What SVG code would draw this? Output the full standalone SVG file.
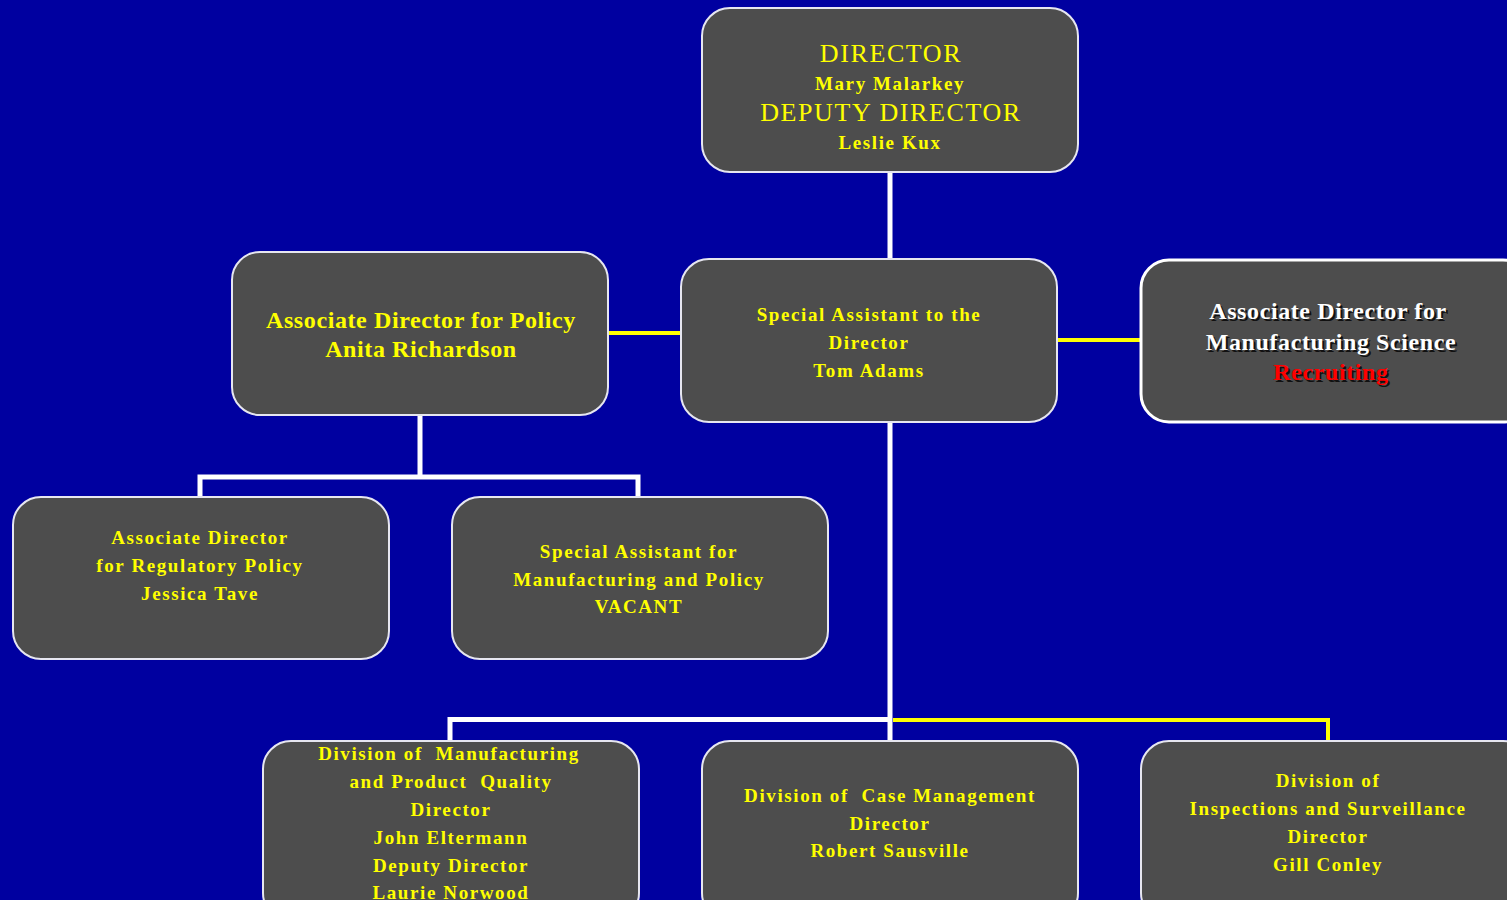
<svg xmlns="http://www.w3.org/2000/svg" width="1507" height="900" viewBox="0 0 1507 900">
<style>
.box{fill:#4d4d4d;stroke:#e6e6f0;stroke-width:2}
.boxw{fill:#4d4d4d;stroke:#ffffff;stroke-width:3}
.t{font-family:"Liberation Serif","Times New Roman",serif;font-weight:bold;fill:#ffff00;text-anchor:middle}
.s19{font-size:19px;letter-spacing:1.6px}
.s24{font-size:24px;letter-spacing:0.6px}
.s26{font-size:26px;font-weight:normal;letter-spacing:1.6px}
.wt{fill:#ffffff}
.sh{fill:#111111}
.red{fill:#ff0000}
.lw{stroke:#ffffff;stroke-width:5;fill:none}
.ly{stroke:#ffff00;stroke-width:4;fill:none}
</style>
<rect width="1507" height="900" fill="#0000a0"/>
<g id="connectors">
<line class="lw" x1="890" y1="172" x2="890" y2="260"/>
<line class="ly" x1="608" y1="333" x2="681" y2="333"/>
<line class="ly" x1="1057" y1="340" x2="1141" y2="340"/>
<polyline class="lw" points="420,415 420,477"/>
<polyline class="lw" points="200,497 200,477 638,477 638,497"/>
<line class="lw" x1="890" y1="422" x2="890" y2="742"/>
<polyline class="lw" points="450,742 450,719.5 890,719.5"/>
<polyline class="ly" points="893,720 1328,720 1328,742"/>
</g>
<g id="director">
<rect class="box" x="702" y="8" width="376" height="164" rx="28"/>
<text class="t s26" x="891" y="62">DIRECTOR</text>
<text class="t s19" x="890" y="90">Mary Malarkey</text>
<text class="t s26" x="891" y="121">DEPUTY DIRECTOR</text>
<text class="t s19" x="890" y="149">Leslie Kux</text>
</g>
<g id="policy">
<rect class="box" x="232" y="252" width="376" height="163" rx="28"/>
<text class="t s24" x="421" y="328">Associate Director for Policy</text>
<text class="t s24" x="421" y="357">Anita Richardson</text>
</g>
<g id="special-assistant">
<rect class="box" x="681" y="259" width="376" height="163" rx="28"/>
<text class="t s19" x="869" y="321">Special Assistant to the</text>
<text class="t s19" x="869" y="349">Director</text>
<text class="t s19" x="869" y="377">Tom Adams</text>
</g>
<g id="manufacturing-science">
<rect class="boxw" x="1141" y="260" width="390" height="162" rx="28"/>
<text class="t s24 sh" x="1330" y="321">Associate Director for</text>
<text class="t s24 sh" x="1333" y="352">Manufacturing Science</text>
<text class="t s24 sh" x="1333" y="382">Recruiting</text>
<text class="t s24 wt" x="1328" y="319">Associate Director for</text>
<text class="t s24 wt" x="1331" y="350">Manufacturing Science</text>
<text class="t s24 red" x="1331" y="380">Recruiting</text>
</g>
<g id="regulatory-policy">
<rect class="box" x="13" y="497" width="376" height="162" rx="28"/>
<text class="t s19" x="200" y="544">Associate Director</text>
<text class="t s19" x="200" y="572">for Regulatory Policy</text>
<text class="t s19" x="200" y="600">Jessica Tave</text>
</g>
<g id="special-assistant-mfg">
<rect class="box" x="452" y="497" width="376" height="162" rx="28"/>
<text class="t s19" x="639" y="558">Special Assistant for</text>
<text class="t s19" x="639" y="586">Manufacturing and Policy</text>
<text class="t s19" x="639" y="613">VACANT</text>
</g>
<g id="dmpq">
<rect class="box" x="263" y="741" width="376" height="180" rx="28"/>
<text class="t s19" x="449" y="760" xml:space="preserve">Division of  Manufacturing</text>
<text class="t s19" x="451" y="788" xml:space="preserve">and Product  Quality</text>
<text class="t s19" x="451" y="816">Director</text>
<text class="t s19" x="451" y="844">John Eltermann</text>
<text class="t s19" x="451" y="872">Deputy Director</text>
<text class="t s19" x="451" y="899">Laurie Norwood</text>
</g>
<g id="case-management">
<rect class="box" x="702" y="741" width="376" height="180" rx="28"/>
<text class="t s19" x="890" y="802" xml:space="preserve">Division of  Case Management</text>
<text class="t s19" x="890" y="830">Director</text>
<text class="t s19" x="890" y="857">Robert Sausville</text>
</g>
<g id="inspections">
<rect class="box" x="1141" y="741" width="390" height="180" rx="28"/>
<text class="t s19" x="1328" y="787">Division of</text>
<text class="t s19" x="1328" y="815">Inspections and Surveillance</text>
<text class="t s19" x="1328" y="843">Director</text>
<text class="t s19" x="1328" y="871">Gill Conley</text>
</g>
</svg>
